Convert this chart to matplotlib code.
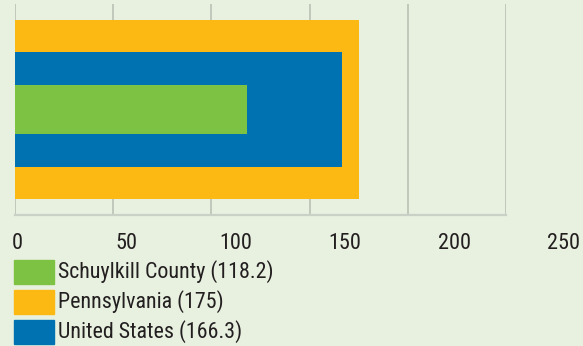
import matplotlib.pyplot as plt
from matplotlib import font_manager
from matplotlib.patches import Rectangle

# 每10万人的比率
regions = ["Schuylkill County", "Pennsylvania", "United States"]
rates = [118.2, 175, 166.3]
colors = ["#7dc243", "#fdb913", "#0072b1"]
bar_heights = [0.232, 0.853, 0.545]
xticks = [0, 50, 100, 150, 200, 250]

names = {f.name for f in font_manager.fontManager.ttflist}
fam = "Liberation Sans"
for c in ["Liberation Sans Narrow", "Roboto Condensed", "Open Sans Condensed"]:
    if c in names:
        fam = c
        break
plt.rcParams['font.family'] = [fam, 'DejaVu Sans']

bg = "#e8f1e0"
txt = "#231f20"
fig = plt.figure(figsize=(5.83, 3.46), dpi=100, facecolor=bg)
ax = fig.add_axes([15 / 583, 1 - 215 / 346, 491 / 583, 211 / 346], facecolor=bg)

# 先画最宽的，再画窄的叠在上面
for i in [1, 2, 0]:
    ax.barh(0, rates[i], height=bar_heights[i], color=colors[i], zorder=3)

ax.set_xlim(0, 250)
ax.set_ylim(-0.5, 0.5)
ax.set_xticks(xticks)
ax.set_yticks([])
ax.tick_params(axis='x', length=0, labelbottom=False)
ax.grid(axis='x', color="#bdc5b9", linewidth=1.3, zorder=0)
for s in ['top', 'right', 'left']:
    ax.spines[s].set_visible(False)
ax.spines['bottom'].set_color("#c9d0c5")
ax.spines['bottom'].set_linewidth(1.6)

# 刻度文字单独放一条轴，间距比网格稍宽
lab = fig.add_axes([17 / 583, 1 - 215 / 346, 547 / 583, 0.001])
lab.patch.set_visible(False)
lab.set_xlim(0, 250)
lab.set_xticks(xticks)
lab.set_yticks([])
lab.tick_params(axis='x', length=0, pad=13, labelsize=16, labelcolor=txt)
for s in lab.spines.values():
    s.set_visible(False)

# 图例
for k in range(3):
    y0 = 1 - (284 + 30 * k) / 346
    fig.add_artist(Rectangle((14 / 583, y0), 40 / 583, 24 / 346,
                             transform=fig.transFigure, color=colors[k]))
    fig.text(58 / 583, y0 + 12 / 346, f"{regions[k]} ({rates[k]:g})",
             fontsize=15.8, color=txt, va='center', ha='left')

fig.savefig("out.png", dpi=100, facecolor=bg)
